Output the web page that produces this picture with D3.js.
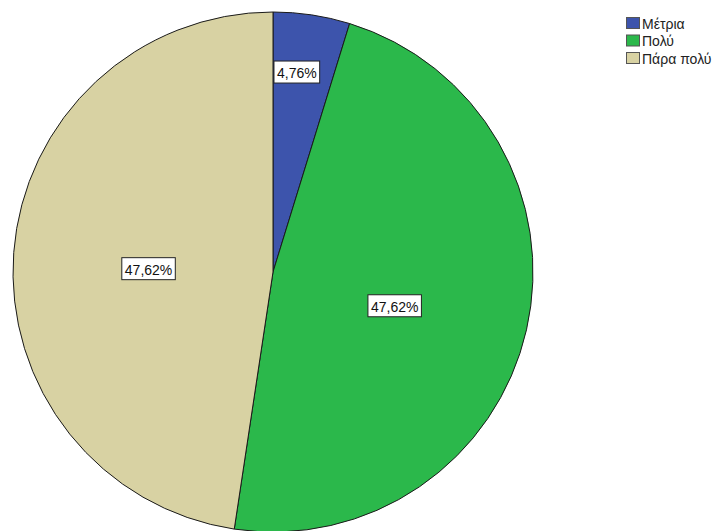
<!DOCTYPE html>
<html>
<head>
<meta charset="utf-8">
<script src="https://cdn.jsdelivr.net/npm/d3@7"></script>
<style>
  html, body { margin: 0; padding: 0; background: #ffffff; }
  svg { display: block; }
  text { font-family: "Liberation Sans", Arial, sans-serif; }
</style>
</head>
<body>
<svg id="chart" width="716" height="531"></svg>
<script>
// Data
const categories = ["Μέτρια", "Πολύ", "Πάρα πολύ"];
const values = [4.76, 47.62, 47.62];
const labels = ["4,76%", "47,62%", "47,62%"];
const colors = ["#3d54ac", "#2bb84b", "#d8d2a3"];

const svg = d3.select("#chart");
const cx = 273, cy = 272, R = 260;

const data = categories.map((c, i) => ({ cat: c, value: values[i], label: labels[i], color: colors[i] }));

const pie = d3.pie().value(d => d.value).sort(null);
const arcs = pie(data);
const arc = d3.arc().innerRadius(0).outerRadius(R);

const g = svg.append("g").attr("transform", `translate(${cx},${cy})`);

g.selectAll("path.slice")
  .data(arcs)
  .enter().append("path")
  .attr("class", "slice")
  .attr("d", arc)
  .attr("fill", d => d.data.color)
  .attr("stroke", "#1a1a1a")
  .attr("stroke-width", 1);

// labels
const lblG = g.selectAll("g.lbl")
  .data(arcs)
  .enter().append("g")
  .attr("class", "lbl")
  .attr("transform", d => {
    const frac = (d.endAngle - d.startAngle) / (2 * Math.PI);
    const small = frac < 0.1;
    const rr = small ? R * 0.77 : R * 0.48;
    const c = d3.arc().innerRadius(rr).outerRadius(rr).centroid(d);
    const nx = small ? -6 : 0, ny = small ? -2 : 6;
    return `translate(${c[0] + nx},${c[1] + ny})`;
  });

lblG.each(function(d) {
  const sel = d3.select(this);
  const t = sel.append("text")
    .attr("text-anchor", "middle")
    .attr("dominant-baseline", "central")
    .attr("y", 1)
    .attr("font-size", 14)
    .attr("fill", "#111")
    .text(d.data.label);
  const bb = t.node().getBBox();
  sel.insert("rect", "text")
    .attr("x", bb.x - 3)
    .attr("y", -11)
    .attr("width", bb.width + 6)
    .attr("height", 22)
    .attr("fill", "#ffffff")
    .attr("stroke", "#222")
    .attr("stroke-width", 1);
});

// legend
const leg = svg.append("g").attr("transform", "translate(626,17)");
const items = leg.selectAll("g.item")
  .data(data)
  .enter().append("g")
  .attr("class", "item")
  .attr("transform", (d, i) => `translate(0,${i * 17.5})`);
items.append("rect")
  .attr("x", 0.5).attr("y", 0.5)
  .attr("width", 13).attr("height", 11)
  .attr("fill", d => d.color)
  .attr("stroke", "#555")
  .attr("stroke-width", 1);
items.append("text")
  .attr("x", 16)
  .attr("y", 6.5)
  .attr("dominant-baseline", "central")
  .attr("font-size", 14)
  .attr("fill", "#222")
  .text(d => d.cat);
</script>
</body>
</html>
